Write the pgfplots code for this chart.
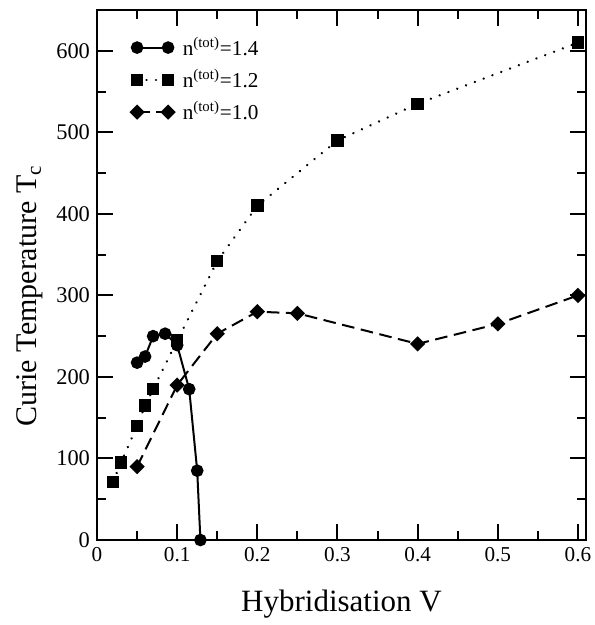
\documentclass[border=0pt]{standalone}
\usepackage{pgfplots}
\pgfplotsset{compat=1.18}
\usepackage{fontspec}
\setmainfont{Liberation Serif}
\begin{document}
\begin{tikzpicture}
\begin{axis}[
  scale only axis, width=244.5pt, height=265pt,
  xmin=0, xmax=0.61, ymin=0, ymax=650,
  clip=false,
  axis line style={line width=1pt},
  every tick/.style={line width=1pt, black},
  major tick length=8pt, minor tick length=4.5pt,
  tick align=inside,
  xtick={0,0.1,0.2,0.3,0.4,0.5,0.6},
  xticklabels={0,0.1,0.2,0.3,0.4,0.5,0.6},
  minor xtick={0.05,0.15,0.25,0.35,0.45,0.55},
  ytick={0,100,200,300,400,500,600},
  minor ytick={50,150,250,350,450,550},
  /pgf/number format/assume math mode=true,
  xticklabel style={font=\fontsize{10.6}{12}\selectfont},
  yticklabel style={font=\fontsize{11.2}{13}\selectfont},
  xlabel={Hybridisation V},
  ylabel={Curie Temperature T\textsubscript{c}},
  xlabel style={font=\fontsize{15.5}{18}\selectfont, at={(axis description cs:0.5,-0.1351)}, anchor=base},
  ylabel style={font=\fontsize{15}{18}\selectfont, at={(axis description cs:-0.1235,0.461)}, anchor=base},
  legend cell align=left,
  legend image code/.code={\draw[#1] plot coordinates {(0pt,0pt) (15.5pt,0pt)}; \path (20.2pt,0pt);},
  legend style={at={(axis description cs:0.0562,0.965)}, anchor=north west,
    draw=none, fill=none, font=\fontsize{10.6}{12}\selectfont, row sep=1.5pt},
]
\addplot[line width=1pt, mark=*, mark size=2.65pt] coordinates {
  (0.05,217.5)(0.06,225)(0.07,250)(0.085,253)(0.1,239)(0.115,185)(0.125,85)(0.129,0)};
\addlegendentry{n\textsuperscript{(tot)}=1.4}
\addplot[line width=1.3pt, dash pattern=on 0.01pt off 4.7pt, line cap=round, mark=square*, mark size=2.6pt, mark options={solid, line width=1pt}] coordinates {
  (0.02,71.5)(0.03,95)(0.05,140)(0.06,165)(0.07,185)(0.1,244.5)(0.15,342)(0.2,410)(0.3,490)(0.4,535)(0.6,610)};
\addlegendentry{n\textsuperscript{(tot)}=1.2}
\addplot[line width=1pt, dash pattern=on 6.3pt off 3.3pt, mark=square*, mark size=2.2pt, mark options={solid, rotate=45}] coordinates {
  (0.05,90)(0.1,190)(0.15,253)(0.2,280)(0.25,278)(0.4,240.5)(0.5,265)(0.6,300)};
\addlegendentry{n\textsuperscript{(tot)}=1.0}
\end{axis}
\pgfresetboundingbox
\path ([shift={(-48.5pt,-42.5pt)}]current axis.south west) rectangle ([shift={(4pt,5pt)}]current axis.north east);
\end{tikzpicture}
\end{document}
